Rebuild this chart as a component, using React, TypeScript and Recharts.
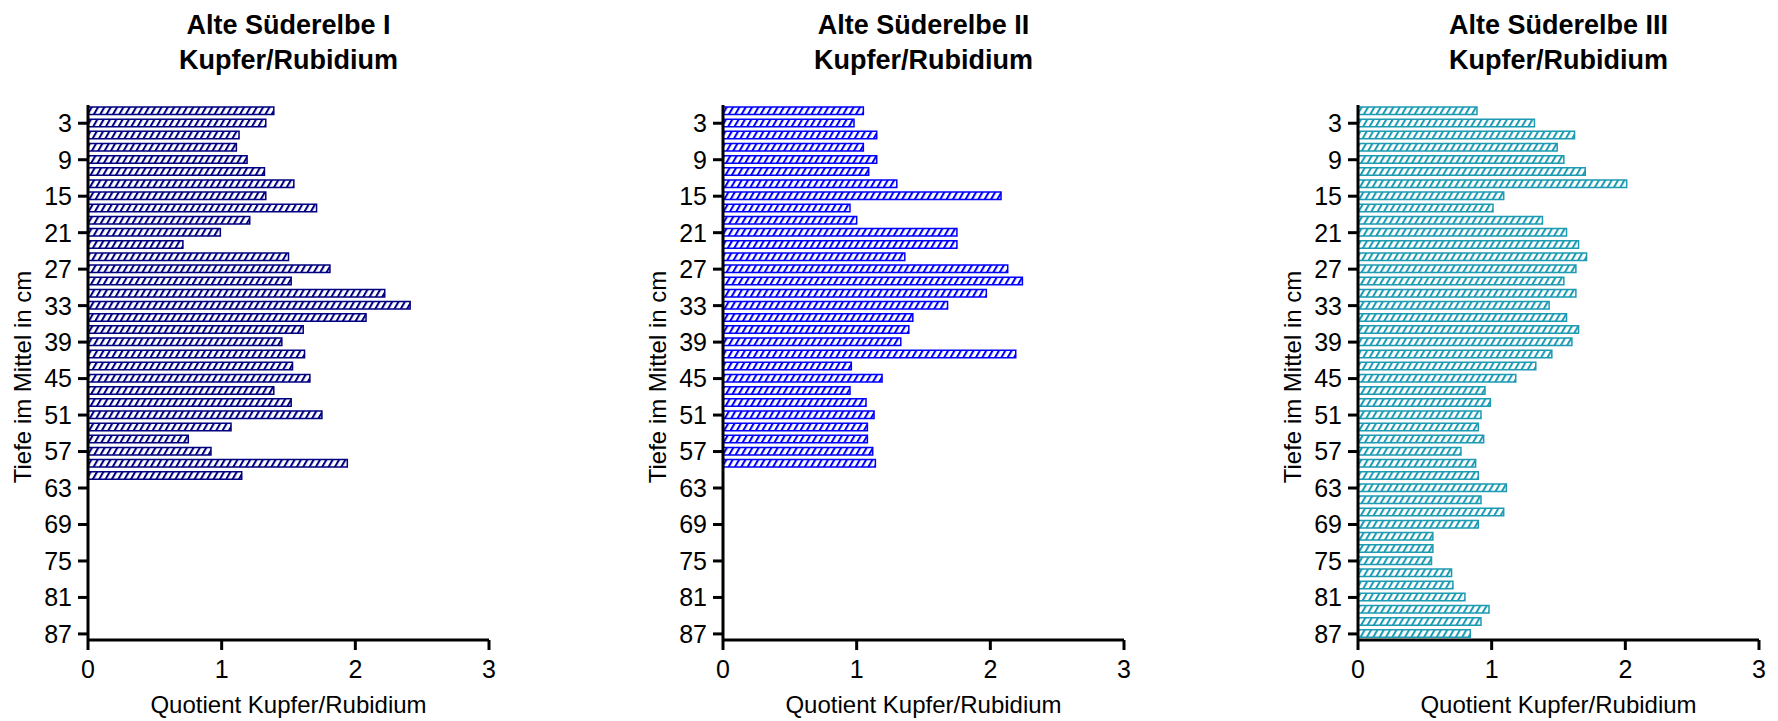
import React from 'react';
import { BarChart, Bar, XAxis, YAxis } from 'recharts';

const depthsI = [1, 3, 5, 7, 9, 11, 13, 15, 17, 19, 21, 23, 25, 27, 29, 31, 33, 35, 37, 39, 41, 43, 45, 47, 49, 51, 53, 55, 57, 59, 61];
const valuesI = [1.39, 1.33, 1.13, 1.11, 1.19, 1.32, 1.54, 1.33, 1.71, 1.21, 0.99, 0.71, 1.5, 1.81, 1.52, 2.22, 2.41, 2.08, 1.61, 1.45, 1.62, 1.53, 1.66, 1.39, 1.52, 1.75, 1.07, 0.75, 0.92, 1.94, 1.15];

const depthsII = [1, 3, 5, 7, 9, 11, 13, 15, 17, 19, 21, 23, 25, 27, 29, 31, 33, 35, 37, 39, 41, 43, 45, 47, 49, 51, 53, 55, 57, 59];
const valuesII = [1.05, 0.98, 1.15, 1.05, 1.15, 1.09, 1.3, 2.08, 0.95, 1.0, 1.75, 1.75, 1.36, 2.13, 2.24, 1.97, 1.68, 1.42, 1.39, 1.33, 2.19, 0.96, 1.19, 0.95, 1.07, 1.13, 1.08, 1.08, 1.12, 1.14];

const depthsIII = [1, 3, 5, 7, 9, 11, 13, 15, 17, 19, 21, 23, 25, 27, 29, 31, 33, 35, 37, 39, 41, 43, 45, 47, 49, 51, 53, 55, 57, 59, 61, 63, 65, 67, 69, 71, 73, 75, 77, 79, 81, 83, 85, 87];
const valuesIII = [0.89, 1.32, 1.62, 1.49, 1.54, 1.7, 2.01, 1.09, 1.01, 1.38, 1.56, 1.65, 1.71, 1.63, 1.54, 1.63, 1.43, 1.56, 1.65, 1.6, 1.45, 1.33, 1.18, 0.95, 0.99, 0.92, 0.9, 0.94, 0.77, 0.88, 0.9, 1.11, 0.92, 1.09, 0.9, 0.56, 0.56, 0.55, 0.7, 0.71, 0.8, 0.98, 0.92, 0.84];

const yTicks = [3, 9, 15, 21, 27, 33, 39, 45, 51, 57, 63, 69, 75, 81, 87];
const xTicks = [0, 1, 2, 3];

const titles = ['Alte Süderelbe I', 'Alte Süderelbe II', 'Alte Süderelbe III'];
const titleLine2 = 'Kupfer/Rubidium';
const xLabel = 'Quotient Kupfer/Rubidium';
const yLabel = 'Tiefe im Mittel in cm';
const colors = ['#000080', '#0000ff', '#1c9bb2'];

const FONT = '"Liberation Sans", Arial, sans-serif';

type PanelProps = { idx: number; depths: number[]; values: number[]; color: string; title: string };

function Panel({ idx, depths, values, color, title }: PanelProps) {
  const data = depths.map((d, i) => ({ depth: d, value: values[i] }));
  const pid = `hatch${idx}`;
  return (
    <div style={{ position: 'absolute', left: idx * 635, top: 0, width: 635, height: 721 }}>
      <div
        style={{
          position: 'absolute', left: 88, top: 8, width: 401, textAlign: 'center',
          fontFamily: FONT, fontWeight: 'bold', fontSize: 27, lineHeight: '35px', color: '#000',
        }}
      >
        {title}
        <br />
        {titleLine2}
      </div>
      <div
        style={{
          position: 'absolute', left: 88, top: 690, width: 401, textAlign: 'center',
          fontFamily: FONT, fontSize: 24, lineHeight: '30px', color: '#000',
        }}
      >
        {xLabel}
      </div>
      <div
        style={{
          position: 'absolute', left: 23 - 200, top: 377 - 15, width: 400, height: 30, textAlign: 'center',
          fontFamily: FONT, fontSize: 24, lineHeight: '30px', color: '#000', transform: 'rotate(-90deg)',
        }}
      >
        {yLabel}
      </div>
      <div style={{ position: 'absolute', left: 0, top: 0 }}>
        <BarChart
          width={635}
          height={721}
          layout="vertical"
          data={data}
          margin={{ top: 105, right: 146, bottom: 0, left: 0 }}
        >
          <defs>
            <pattern id={pid} patternUnits="userSpaceOnUse" width={5.5} height={10} patternTransform="rotate(30)">
              <rect x={0} y={0} width={5.5} height={10} fill="#ffffff" />
              <line x1={1} y1={-1} x2={1} y2={11} stroke={color} strokeWidth={2.1} />
            </pattern>
          </defs>
          <XAxis
            type="number"
            domain={[0, 3]}
            ticks={xTicks}
            interval={0}
            height={81}
            tickSize={10}
            tickMargin={10}
            axisLine={{ stroke: '#000', strokeWidth: 3 }}
            tickLine={{ stroke: '#000', strokeWidth: 3 }}
            tick={{ fill: '#000', fontSize: 25, fontFamily: FONT }}
          />
          <YAxis
            type="number"
            dataKey="depth"
            domain={[0, 88]}
            ticks={yTicks}
            interval={0}
            width={88}
            tickSize={10}
            tickMargin={6}
            axisLine={{ stroke: '#000', strokeWidth: 3 }}
            tickLine={{ stroke: '#000', strokeWidth: 3 }}
            tick={{ fill: '#000', fontSize: 25, fontFamily: FONT }}
          />
          <Bar
            dataKey="value"
            barSize={7.5}
            fill={`url(#${pid})`}
            stroke={color}
            strokeWidth={1.5}
            isAnimationActive={false}
          />
        </BarChart>
      </div>
    </div>
  );
}

export default function App() {
  const sets = [
    { depths: depthsI, values: valuesI },
    { depths: depthsII, values: valuesII },
    { depths: depthsIII, values: valuesIII },
  ];
  return (
    <div style={{ position: 'absolute', left: 0, top: 0, width: 1778, height: 721, background: '#fff', overflow: 'hidden' }}>
      {sets.map((s, i) => (
        <Panel key={i} idx={i} depths={s.depths} values={s.values} color={colors[i]} title={titles[i]} />
      ))}
    </div>
  );
}
